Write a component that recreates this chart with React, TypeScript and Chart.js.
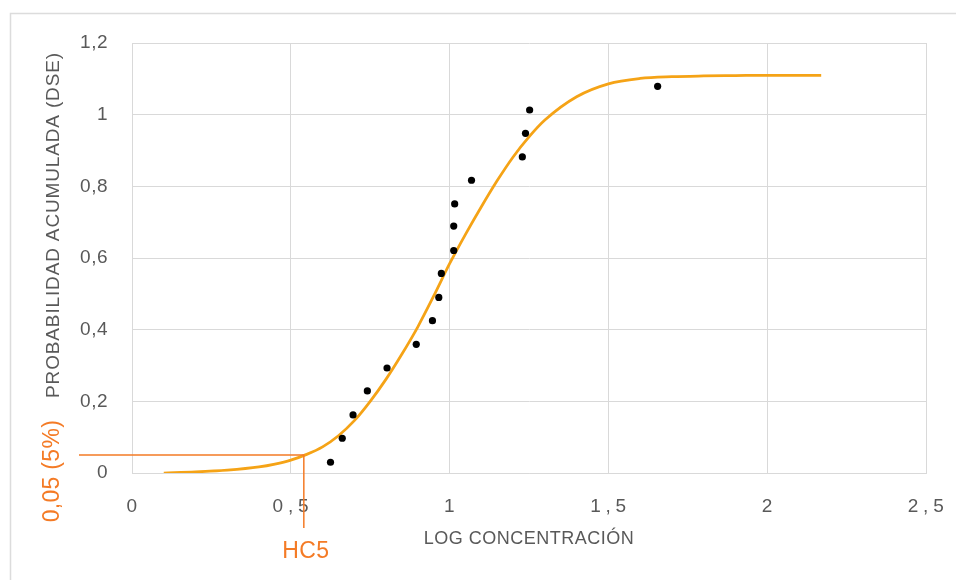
import { useEffect, useRef } from 'react';
import { Chart, registerables } from 'chart.js';

Chart.register(...registerables);

// ---- data ----
const pointsX = [0.625, 0.662, 0.696, 0.741, 0.803, 0.895, 0.946, 0.966, 0.974, 1.013, 1.013, 1.016, 1.069, 1.229, 1.239, 1.252, 1.655];
const pointsY = [0.03, 0.097, 0.162, 0.229, 0.293, 0.359, 0.425, 0.49, 0.557, 0.621, 0.689, 0.751, 0.817, 0.882, 0.948, 1.013, 1.079];

const curveX = [0.1, 0.2, 0.3, 0.4, 0.45, 0.5, 0.55, 0.6, 0.65, 0.7, 0.75, 0.8, 0.85, 0.9, 0.95, 1.0, 1.05, 1.1, 1.15, 1.2, 1.25, 1.3, 1.4, 1.5, 1.6, 1.7, 1.8, 1.9, 2.0, 2.17];
const curveY = [0.0, 0.003, 0.008, 0.017, 0.025, 0.036, 0.052, 0.073, 0.104, 0.146, 0.2, 0.262, 0.332, 0.408, 0.494, 0.584, 0.666, 0.743, 0.816, 0.882, 0.938, 0.985, 1.05, 1.086, 1.101, 1.106, 1.108, 1.109, 1.11, 1.11];

const xTickValues = [0, 0.5, 1, 1.5, 2, 2.5];
const xTickLabels = ['0', '0\u2009,\u20095', '1', '1\u2009,\u20095', '2', '2\u2009,\u20095'];
const yTickValues = [0, 0.2, 0.4, 0.6, 0.8, 1, 1.2];
const yTickLabels = ['0', '0,2', '0,4', '0,6', '0,8', '1', '1,2'];

const hc5X = 0.541;
const hc5Y = 0.05;
const hc5Label = 'HC5';
const hc5YLabel = '0,05 (5%)';
const xTitle = 'LOG CONCENTRACIÓN';
const yTitle = 'PROBABILIDAD ACUMULADA (DSE)';

// ---- styles ----
const FONT = '"Liberation Sans", Arial, sans-serif';
const GREY = '#595959';
const GRID = '#d9d9d9';
const CURVE = '#f5a316';
const ANNOT = '#f47b26';

const decorPlugin = {
  id: 'decor',
  beforeDraw(chart: any) {
    const ctx = chart.ctx;
    ctx.save();
    ctx.strokeStyle = '#dcdcdc';
    ctx.lineWidth = 1.5;
    ctx.beginPath();
    ctx.moveTo(10.5, 580);
    ctx.lineTo(10.5, 13.5);
    ctx.lineTo(956, 13.5);
    ctx.stroke();
    ctx.restore();
    ctx.letterSpacing = '0.5px';
  },
  afterDraw(chart: any) {
    const ctx = chart.ctx;
    const xs = chart.scales.x;
    const ys = chart.scales.y;
    const { left, bottom, top } = chart.chartArea;
    const px = xs.getPixelForValue(hc5X);
    const py = ys.getPixelForValue(hc5Y);

    ctx.save();
    ctx.strokeStyle = ANNOT;
    ctx.lineWidth = 1.5;
    ctx.beginPath();
    ctx.moveTo(left - 53, py);
    ctx.lineTo(px, py);
    ctx.lineTo(px, bottom + 55);
    ctx.stroke();

    ctx.fillStyle = ANNOT;
    ctx.font = `23px ${FONT}`;
    ctx.letterSpacing = '0.3px';
    ctx.textAlign = 'center';
    ctx.textBaseline = 'alphabetic';
    ctx.fillText(hc5Label, px + 2, bottom + 85);
    ctx.translate(left - 73, py + 16);
    ctx.rotate(-Math.PI / 2);
    ctx.fillText(hc5YLabel, 0, 0);
    ctx.restore();

    ctx.save();
    ctx.fillStyle = GREY;
    ctx.font = `19px ${FONT}`;
    ctx.letterSpacing = '0.85px';
    ctx.textAlign = 'center';
    ctx.textBaseline = 'alphabetic';
    ctx.translate(left - 73, top + 182);
    ctx.rotate(-Math.PI / 2);
    ctx.fillText(yTitle, 0, 0);
    ctx.restore();
    ctx.letterSpacing = '0px';
  },
};

export default function App() {
  const ref = useRef<HTMLCanvasElement | null>(null);

  useEffect(() => {
    if (!ref.current) return;
    const chart = new Chart(ref.current, {
      type: 'scatter',
      data: {
        datasets: [
          {
            label: 'Datos',
            data: pointsX.map((x, i) => ({ x, y: pointsY[i] })),
            backgroundColor: '#000000',
            borderColor: '#000000',
            pointRadius: 3.6,
            pointBorderWidth: 0,
            order: 0,
          },
          {
            label: 'Ajuste',
            data: curveX.map((x, i) => ({ x, y: curveY[i] })),
            showLine: true,
            borderColor: CURVE,
            backgroundColor: CURVE,
            borderWidth: 2.75,
            pointRadius: 0,
            cubicInterpolationMode: 'monotone',
            order: 1,
          },
        ],
      },
      options: {
        animation: false,
        responsive: true,
        maintainAspectRatio: false,
        layout: { padding: { left: 0, right: 30, top: 43, bottom: 0 } },
        plugins: {
          legend: { display: false },
          tooltip: { enabled: false },
        },
        scales: {
          x: {
            type: 'linear',
            min: 0,
            max: 2.5,
            afterBuildTicks: (s: any) => {
              s.ticks = xTickValues.map((v) => ({ value: v }));
            },
            afterFit: (s: any) => {
              s.height = 107;
              s.paddingLeft = 0;
              s.paddingRight = 0;
            },
            grid: { color: GRID, lineWidth: 1, drawTicks: false },
            border: { color: GRID, width: 1 },
            ticks: {
              padding: 22,
              color: GREY,
              font: { family: FONT, size: 19 },
              maxRotation: 0,
              callback: (_v: any, i: number) => xTickLabels[i],
            },
            title: {
              display: true,
              text: xTitle,
              color: GREY,
              font: { family: FONT, size: 18 },
              padding: { top: 0, bottom: 29.7 },
            },
          },
          y: {
            type: 'linear',
            min: 0,
            max: 1.2,
            afterBuildTicks: (s: any) => {
              s.ticks = yTickValues.map((v) => ({ value: v }));
            },
            afterFit: (s: any) => {
              s.width = 132;
              s.paddingTop = 0;
              s.paddingBottom = 0;
            },
            grid: { color: GRID, lineWidth: 1, drawTicks: false },
            border: { color: GRID, width: 1 },
            ticks: {
              padding: 24,
              color: GREY,
              font: { family: FONT, size: 19 },
              callback: (_v: any, i: number) => yTickLabels[i],
            },
          },
        },
      },
      plugins: [decorPlugin],
    });
    return () => chart.destroy();
  }, []);

  return (
    <div style={{ position: 'fixed', left: 0, top: 0, width: 956, height: 580, background: '#ffffff' }}>
      <canvas ref={ref} />
    </div>
  );
}
